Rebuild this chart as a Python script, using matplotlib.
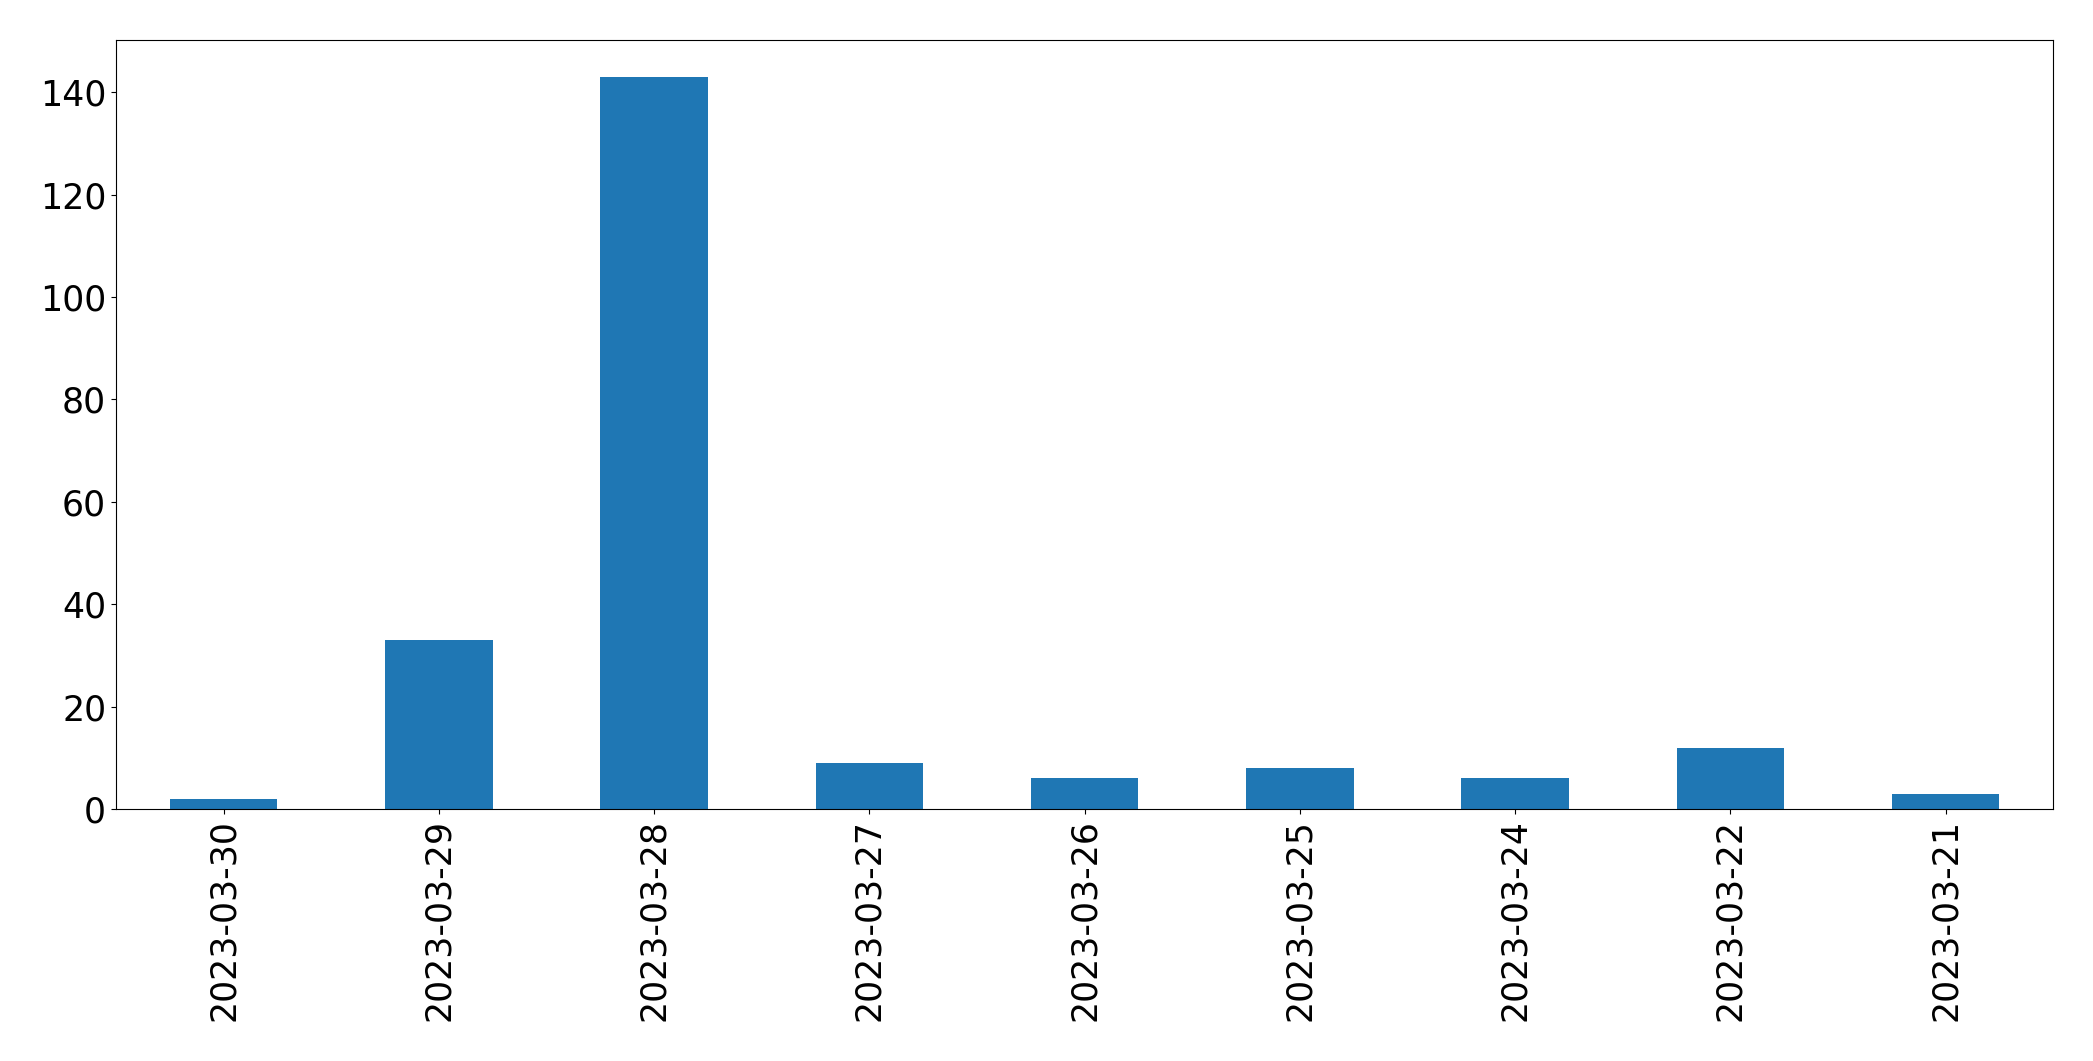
import matplotlib
matplotlib.use("Agg")
import matplotlib.pyplot as plt
import numpy as np

dates = ["2023-03-30", "2023-03-29", "2023-03-28", "2023-03-27", "2023-03-26",
         "2023-03-25", "2023-03-24", "2023-03-22", "2023-03-21"]
counts = [2, 33, 143, 9, 6, 8, 6, 12, 3]

fig = plt.figure(figsize=(20.93, 10.61), dpi=100)
ax = fig.add_axes([0.0554, 0.2375, 0.9256, 0.7245])
x = np.arange(len(dates))
ax.bar(x, counts, width=0.5, color="#1f77b4")
ax.set_xlim(-0.5, len(dates) - 0.5)
ax.set_ylim(0, max(counts) * 1.05)
ax.set_xticks(x)
ax.set_xticklabels(dates, rotation=90)
ax.tick_params(axis="both", labelsize=25)
fig.savefig("out.png", dpi=100)
